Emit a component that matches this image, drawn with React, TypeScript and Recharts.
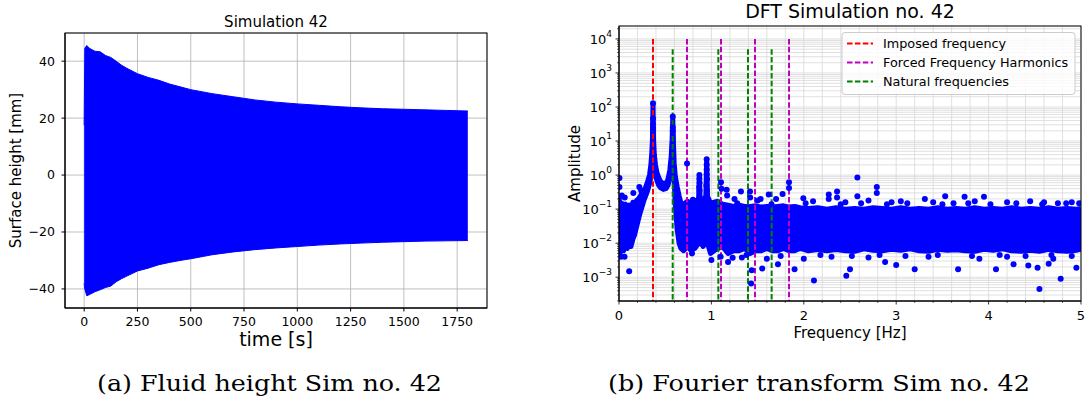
import React from 'react';
import {
  ComposedChart,
  Area,
  Scatter,
  XAxis,
  YAxis,
  CartesianGrid,
  ReferenceLine,
} from 'recharts';

const FONT = "'DejaVu Sans', sans-serif";
const SERIF = "'DejaVu Serif', serif";
const BLUE = '#0000ff';

// (a) surface height: envelope of the oscillation
const TIME = [0, 3, 12, 25, 50, 75, 100, 125, 150, 175, 200, 250, 300, 350, 400, 450, 500, 600, 700, 800, 900, 1000, 1100, 1200, 1300, 1400, 1500, 1600, 1700, 1800];
const UPPER = [17.5, 44.5, 45.5, 44.5, 43.5, 43.3, 42, 41.3, 40, 38.6, 37.5, 35.6, 34.3, 33.3, 32, 31, 30, 28.6, 27.5, 26.4, 25.6, 25, 24.5, 24, 23.6, 23.3, 23.1, 22.9, 22.7, 22.5];
const LOWER = [-38, -40, -42.4, -42, -41, -40.3, -39.5, -39, -37.5, -36.4, -35.5, -33.7, -32.7, -31.5, -30.7, -30, -29.4, -28, -27, -26.2, -25.6, -25.1, -24.6, -24.2, -23.9, -23.6, -23.4, -23.2, -23.1, -23];
const TIME_TICKS = [0, 250, 500, 750, 1000, 1250, 1500, 1750];
const HEIGHT_TICKS = [-40, -20, 0, 20, 40];

// (b) DFT: dense band of points (low / high edge) plus single points
const FREQ = [0, 0.01, 0.03, 0.05, 0.07, 0.09, 0.11, 0.13, 0.15, 0.17, 0.19, 0.21, 0.23, 0.25, 0.27, 0.29, 0.31, 0.33, 0.345, 0.355, 0.362, 0.368, 0.374, 0.382, 0.395, 0.41, 0.43, 0.45, 0.48, 0.51, 0.53, 0.55, 0.565, 0.575, 0.582, 0.589, 0.597, 0.61, 0.63, 0.65, 0.67, 0.7, 0.74, 0.78, 0.82, 0.85, 0.862, 0.87, 0.878, 0.91, 0.94, 0.949, 0.958, 0.99, 1.03, 1.07, 1.12, 1.18, 1.24, 1.3, 1.36, 1.42, 1.48, 1.54, 1.6, 1.66, 1.72, 1.78, 1.84, 1.9, 1.96, 2.05, 2.15, 2.25, 2.35, 2.45, 2.55, 2.65, 2.75, 2.85, 2.95, 3.05, 3.15, 3.25, 3.35, 3.45, 3.55, 3.65, 3.75, 3.85, 3.95, 4.05, 4.15, 4.25, 4.35, 4.45, 4.55, 4.65, 4.75, 4.85, 4.95, 5];
const BAND_LO = [0.006, 0.005, 0.007, 0.006, 0.009, 0.007, 0.01, 0.008, 0.013, 0.018, 0.03, 0.05, 0.08, 0.12, 0.18, 0.25, 0.35, 0.55, 0.9, 1.6, 4, 25, 4, 1.7, 1.0, 0.7, 0.5, 0.42, 0.38, 0.4, 0.5, 0.8, 1.5, 4, 20, 3, 0.8, 0.12, 0.025, 0.01, 0.007, 0.006, 0.008, 0.006, 0.007, 0.009, 0.011, 0.013, 0.011, 0.008, 0.01, 0.011, 0.01, 0.005, 0.006, 0.007, 0.008, 0.005, 0.006, 0.006, 0.007, 0.005, 0.006, 0.006, 0.007, 0.006, 0.006, 0.007, 0.006, 0.006, 0.007, 0.006, 0.0065, 0.006, 0.0065, 0.006, 0.0058, 0.0068, 0.0062, 0.006, 0.0066, 0.0062, 0.0068, 0.006, 0.0058, 0.0066, 0.0062, 0.0064, 0.006, 0.0058, 0.0066, 0.0062, 0.0068, 0.006, 0.0058, 0.0062, 0.0058, 0.0066, 0.006, 0.0058, 0.0062, 0.0066];
const BAND_HI = [0.25, 0.12, 0.15, 0.1, 0.14, 0.11, 0.13, 0.1, 0.16, 0.12, 0.18, 0.2, 0.24, 0.3, 0.36, 0.45, 0.65, 1.0, 2.0, 4.5, 11, 120, 11, 4, 2.0, 1.2, 0.85, 0.65, 0.56, 0.58, 0.75, 1.4, 3.5, 11, 48, 9, 2.2, 0.9, 0.45, 0.25, 0.15, 0.14, 0.17, 0.15, 0.18, 0.17, 0.22, 0.9, 0.2, 0.17, 0.25, 2.6, 0.24, 0.15, 0.16, 0.17, 0.14, 0.13, 0.12, 0.13, 0.12, 0.12, 0.125, 0.115, 0.12, 0.115, 0.12, 0.125, 0.115, 0.12, 0.11, 0.105, 0.11, 0.1, 0.11, 0.1, 0.105, 0.1, 0.11, 0.105, 0.1, 0.11, 0.1, 0.105, 0.1, 0.11, 0.1, 0.105, 0.1, 0.11, 0.1, 0.105, 0.1, 0.11, 0.1, 0.105, 0.1, 0.11, 0.1, 0.105, 0.1, 0.105];

const DOT_FREQ = [
  0.368, 0.368, 0.368, 0.368, 0.582, 0.582, 0.582, 0.736,
  0.87, 0.87, 0.872, 0.868, 0.872, 0.949, 0.949, 0.949, 0.949, 0.952, 0.946, 0.952,
  0.8, 0.005, 0.005, 0.03, 0.062, 0.155, 0.22, 0.24,
  1.104, 1.11, 1.165, 1.17, 1.25, 1.32, 1.418, 1.42, 1.5, 1.533, 1.62, 1.7, 1.77, 1.84, 1.84, 1.995,
  2.1, 2.27, 2.27, 2.36, 2.36, 2.45, 2.58, 2.58, 2.7, 2.79, 2.79, 2.95, 3.05, 3.31, 3.4, 3.53, 3.62, 3.74, 3.85, 3.95, 4.2, 4.45, 4.6, 4.75, 4.9, 4.98,
  0.11, 0.02, 0.06, 0.79, 1.0, 1.18, 1.23, 1.33, 1.43, 1.436, 1.55, 1.72, 1.9, 2.0, 2.11, 2.46, 2.5, 2.88, 3.0, 3.2, 3.67, 4.08, 4.27, 4.43, 4.53, 4.55, 4.65, 4.78, 4.95,
  1.1, 1.6, 2.3, 2.7, 3.35, 3.9, 4.2, 4.7,
  1.28, 1.65, 2.02, 2.4, 2.62, 2.9, 3.12, 3.5, 3.78, 4.02, 4.3, 4.58, 4.84,
  1.38, 1.75, 2.18, 2.52, 2.82, 3.1, 3.45, 3.82, 4.12, 4.4, 4.68, 4.9,
];
const DOT_AMP = [
  130, 45, 32, 24, 53, 25, 20, 2.2,
  1.0, 0.78, 0.6, 0.45, 0.35, 2.9, 2.0, 1.45, 1.05, 0.75, 0.5, 0.35,
  0.19, 0.82, 0.45, 0.25, 0.22, 0.3, 0.45, 0.35,
  0.62, 0.4, 0.37, 0.25, 0.2, 0.33, 0.33, 0.22, 0.18, 0.2, 0.27, 0.2, 0.28, 0.62, 0.42, 0.21,
  0.17, 0.27, 0.2, 0.33, 0.22, 0.16, 0.85, 0.24, 0.18, 0.45, 0.3, 0.16, 0.17, 0.2, 0.16, 0.24, 0.15, 0.23, 0.17, 0.23, 0.16, 0.17, 0.16, 0.15, 0.16, 0.15,
  0.0015, 0.004, 0.004, 0.005, 0.0032, 0.0028, 0.0037, 0.0038, 0.00065, 0.0016, 0.0018, 0.0024, 0.0017, 0.0035, 0.0008, 0.0011, 0.0017, 0.0028, 0.0023, 0.0017, 0.0017, 0.0017, 0.0024, 0.0022, 0.0019, 0.00045, 0.0025, 0.0009, 0.0019,
  0.004, 0.0035, 0.004, 0.0038, 0.004, 0.0035, 0.004, 0.0035,
  0.15, 0.14, 0.15, 0.14, 0.15, 0.14, 0.15, 0.14, 0.15, 0.14, 0.15, 0.14, 0.15,
  0.0045, 0.0042, 0.0045, 0.0042, 0.0045, 0.0042, 0.0045, 0.0042, 0.0045, 0.0042, 0.0045, 0.0042,
];

const IMPOSED = [0.368];
const HARMONICS = [0.736, 1.104, 1.472, 1.84];
const NATURAL = [0.581, 1.075, 1.396, 1.652];
const FORCED_TOP = 1e4;
const NATURAL_TOP = 5e3;
const AMP_MIN = 2e-4;
const AMP_MAX = 2.4e4;
const FREQ_TICKS = [0, 0.2, 0.4, 0.6, 0.8, 1, 1.2, 1.4, 1.6, 1.8, 2, 2.2, 2.4, 2.6, 2.8, 3, 3.2, 3.4, 3.6, 3.8, 4, 4.2, 4.4, 4.6, 4.8, 5];
const DECADES = [-4, -3, -2, -1, 0, 1, 2, 3, 4];

const AMP_TICKS: number[] = [];
DECADES.forEach((e) => {
  for (let m = 1; m <= 9; m++) {
    const v = m * Math.pow(10, e);
    if (v >= AMP_MIN && v <= AMP_MAX) AMP_TICKS.push(v);
  }
});

const minus = (v: number) => (v < 0 ? `\u2212${-v}` : `${v}`);

function AmpTick({ x, y, payload }: any) {
  const lg = Math.log10(payload.value);
  const e = Math.round(lg);
  const major = Math.abs(lg - e) < 1e-6;
  return (
    <g>
      <line x1={x} x2={x - (major ? 3.5 : 2)} y1={y} y2={y} stroke="#000" strokeWidth={major ? 0.8 : 0.6} />
      {major && (
        <text x={x - 7} y={y + 5} textAnchor="end" fontFamily={FONT} fontSize={13} fill="#000">
          10
          <tspan dy={-7} fontSize={9}>{minus(e)}</tspan>
        </text>
      )}
    </g>
  );
}

function FreqTick({ x, y, payload }: any) {
  const major = Number.isInteger(payload.value);
  return (
    <g>
      <line x1={x} x2={x} y1={y} y2={y + (major ? 3.5 : 2)} stroke="#000" strokeWidth={major ? 0.8 : 0.6} />
      {major && (
        <text x={x} y={y + 10} dy="0.71em" textAnchor="middle" fontFamily={FONT} fontSize={13} fill="#000">
          {payload.value}
        </text>
      )}
    </g>
  );
}

const dotShape = (p: any) => <circle cx={p.cx} cy={p.cy} r={3} fill={BLUE} />;

function HeightChart() {
  const data = TIME.map((t, i) => ({ t, band: [LOWER[i], UPPER[i]] }));
  const tick = { fill: '#000', fontSize: 12.5, fontFamily: FONT };
  return (
    <ComposedChart width={500} height={401} data={data} margin={{ top: 33, right: 13, bottom: 63, left: 0 }}>
      <CartesianGrid stroke="#b0b0b0" strokeWidth={0.8} />
      <XAxis
        dataKey="t"
        type="number"
        domain={[-90, 1890]}
        ticks={TIME_TICKS}
        interval={0}
        height={30}
        tickSize={3.5}
        tickMargin={5.5}
        stroke="#000"
        tick={tick}
        allowDataOverflow
      />
      <YAxis
        type="number"
        domain={[-46.7, 49.9]}
        ticks={HEIGHT_TICKS}
        interval={0}
        width={65}
        tickSize={3.5}
        tickMargin={6.5}
        stroke="#000"
        tick={tick}
        tickFormatter={minus}
        allowDataOverflow
      />
      <Area
        dataKey="band"
        type="linear"
        fill={BLUE}
        fillOpacity={1}
        stroke={BLUE}
        strokeWidth={1}
        dot={false}
        activeDot={false}
        isAnimationActive={false}
      />
    </ComposedChart>
  );
}

function DftChart() {
  const data = FREQ.map((f, i) => ({ f, band: [BAND_LO[i], BAND_HI[i]] }));
  const dots = DOT_FREQ.map((f, i) => ({ f, a: DOT_AMP[i] }));
  const dash = { strokeDasharray: '5.5 2.4', strokeWidth: 2, ifOverflow: 'visible' as const };
  return (
    <ComposedChart width={546} height={401} data={data} margin={{ top: 26, right: 5, bottom: 70, left: 0 }}>
      <CartesianGrid stroke="#d8d8d8" strokeWidth={0.8} />
      <XAxis
        dataKey="f"
        type="number"
        domain={[0, 5]}
        ticks={FREQ_TICKS}
        interval={0}
        height={30}
        tickSize={0}
        tickMargin={0}
        tickLine={false}
        stroke="#000"
        tick={(p: any) => <FreqTick {...p} />}
        allowDataOverflow
      />
      <YAxis
        type="number"
        scale="log"
        domain={[AMP_MIN, AMP_MAX]}
        ticks={AMP_TICKS}
        interval={0}
        width={79}
        tickSize={0}
        tickMargin={0}
        tickLine={false}
        stroke="#000"
        tick={(p: any) => <AmpTick {...p} />}
        allowDataOverflow
      />
      <Area
        dataKey="band"
        type="linear"
        fill={BLUE}
        fillOpacity={1}
        stroke={BLUE}
        strokeWidth={5}
        strokeLinejoin="round"
        dot={false}
        activeDot={false}
        isAnimationActive={false}
      />
      <Scatter data={dots} dataKey="a" shape={dotShape} isAnimationActive={false} />
      {IMPOSED.map((f) => (
        <ReferenceLine key={`i${f}`} segment={[{ x: f, y: FORCED_TOP }, { x: f, y: AMP_MIN }]} stroke="#ff0000" {...dash} />
      ))}
      {HARMONICS.map((f) => (
        <ReferenceLine key={`h${f}`} segment={[{ x: f, y: FORCED_TOP }, { x: f, y: AMP_MIN }]} stroke="#bf00bf" {...dash} />
      ))}
      {NATURAL.map((f) => (
        <ReferenceLine key={`n${f}`} segment={[{ x: f, y: NATURAL_TOP }, { x: f, y: AMP_MIN }]} stroke="#008000" {...dash} />
      ))}
    </ComposedChart>
  );
}

const LEGEND = [
  { label: 'Imposed frequency', color: '#ff0000' },
  { label: 'Forced Frequency Harmonics', color: '#bf00bf' },
  { label: 'Natural frequencies', color: '#008000' },
];

function Overlay() {
  const t = { fontFamily: FONT, fill: '#000' };
  return (
    <svg width={1086} height={401} style={{ position: 'absolute', left: 0, top: 0, pointerEvents: 'none' }}>
      <rect x={65} y={33} width={422} height={275} fill="none" stroke="#000" strokeWidth={1} />
      <rect x={619} y={26} width={462} height={275} fill="none" stroke="#000" strokeWidth={1} />
      <text {...t} x={276} y={26.5} fontSize={15} textAnchor="middle">Simulation 42</text>
      <text {...t} x={276} y={346} fontSize={19} textAnchor="middle">time [s]</text>
      <text {...t} x={16} y={170.5} fontSize={15} textAnchor="middle" dominantBaseline="central" transform="rotate(-90 16 170.5)">
        Surface height [mm]
      </text>
      <text {...t} x={850} y={17.5} fontSize={19} textAnchor="middle">DFT Simulation no. 42</text>
      <text {...t} x={850} y={338} fontSize={15} textAnchor="middle">Frequency [Hz]</text>
      <text {...t} x={575} y={163.5} fontSize={15} textAnchor="middle" dominantBaseline="central" transform="rotate(-90 575 163.5)">
        Amplitude
      </text>
      <rect x={842} y={32.5} width={233} height={62} rx={3} fill="#fff" fillOpacity={0.8} stroke="#cccccc" strokeWidth={1} />
      {LEGEND.map((l, i) => {
        const y = 43.5 + i * 19;
        return (
          <g key={l.label}>
            <line x1={847} x2={873} y1={y} y2={y} stroke={l.color} strokeWidth={2} strokeDasharray="5.5 2.4" />
            <text {...t} x={883} y={y} fontSize={12.8} dominantBaseline="central">{l.label}</text>
          </g>
        );
      })}
      <text x={97} y={391} fontFamily={SERIF} fontSize={22.5} fontWeight={300} fill="#000" textLength={345} lengthAdjust="spacingAndGlyphs">
        (a) Fluid height Sim no. 42
      </text>
      <text x={608} y={391} fontFamily={SERIF} fontSize={22.5} fontWeight={300} fill="#000" textLength={422} lengthAdjust="spacingAndGlyphs">
        (b) Fourier transform Sim no. 42
      </text>
    </svg>
  );
}

export default function App() {
  return (
    <div style={{ position: 'relative', width: 1086, height: 401, background: '#fff', fontFamily: FONT }}>
      <style>{'body{margin:0}'}</style>
      <div style={{ position: 'absolute', left: 0, top: 0 }}>
        <HeightChart />
      </div>
      <div style={{ position: 'absolute', left: 540, top: 0 }}>
        <DftChart />
      </div>
      <Overlay />
    </div>
  );
}
